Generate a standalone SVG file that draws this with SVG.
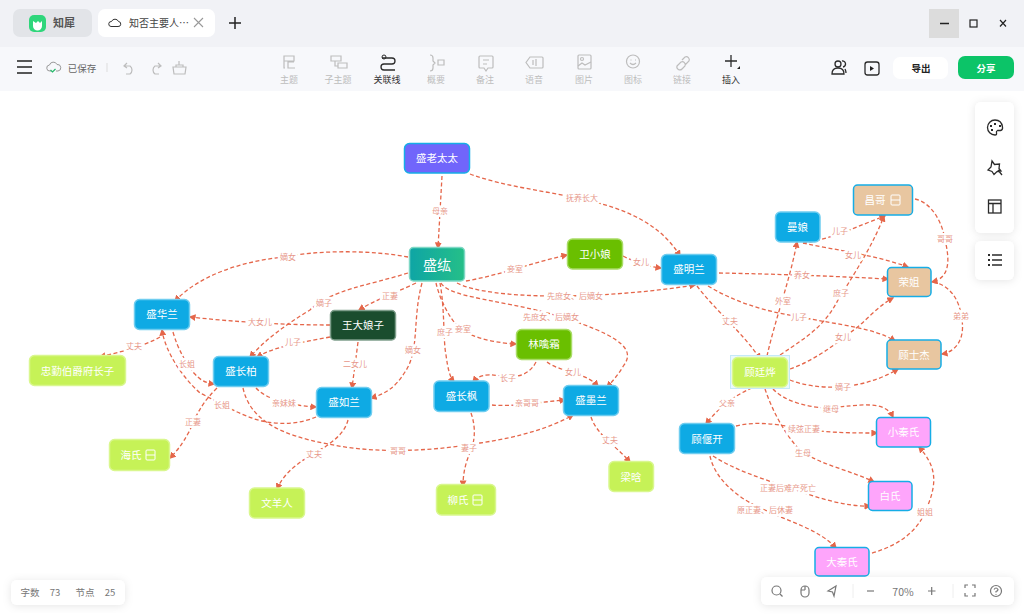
<svg xmlns="http://www.w3.org/2000/svg" width="1024" height="615" viewBox="0 0 1024 615">
<style>
text{font-family:"Noto Sans CJK SC","Noto Sans",sans-serif;text-anchor:middle}
.c path{fill:none;stroke:#e5664a;stroke-width:1.3;stroke-dasharray:4 2.500;marker-end:url(#a)}
.l text{font-size:8px;fill:#e7988a;stroke:#fff;stroke-width:5;paint-order:stroke;stroke-linejoin:round}
.n rect.b{stroke-width:1.5}
.n text{font-size:10.500px;fill:#fff}
.blue{fill:#0eaae4;stroke:#6fcdf0}
.lime{fill:#c6f257;stroke:#d9f78f}
.tan{fill:#e8c6a0;stroke:#16ade6}
.pink{fill:#fea5fb;stroke:#16ade6}
.grn{fill:#6abf00;stroke:#a9dc66}
.tb{font-size:9px;fill:#bdbdbd}
.ti{fill:none;stroke:#bdbdbd;stroke-width:1.2}
.di{fill:none;stroke:#2b2b2b;stroke-width:1.3}
.gi{fill:none;stroke:#777;stroke-width:1.2}
.pn{fill:#fff;filter:url(#s)}
</style>
<defs>
<marker id="a" viewBox="0 0 10 10" refX="8" refY="5" markerWidth="7" markerHeight="7" markerUnits="userSpaceOnUse" orient="auto"><path d="M0 0L10 5L0 10Z" fill="#e5664a"/></marker>
<linearGradient id="g" x1="0" x2="1" y1="0" y2="0"><stop offset="0" stop-color="#0ea5a5"/><stop offset="1" stop-color="#25bf88"/></linearGradient>
<filter id="s" x="-20%" y="-30%" width="140%" height="160%"><feDropShadow dx="0" dy="1" stdDeviation="4" flood-color="#000" flood-opacity=".1"/></filter>
</defs>
<rect width="1024" height="615" fill="#fff"/>
<g id="titlebar">
<rect width="1024" height="47" fill="#f1f2f6"/>
<rect x="13" y="9" width="79" height="28" rx="7" fill="#e2e4e8"/>
<rect x="29" y="15" width="17" height="17" rx="5" fill="#2fd67b"/>
<path d="M33 21v5a4 4 0 0 0 9 0v-5l-2 2-2-2-2 2z" fill="#fff"/>
<text x="64" y="27" font-size="11" font-weight="700" fill="#555">知犀</text>
<rect x="98" y="9" width="117" height="28" rx="7" fill="#fff"/>
<path d="M111 26.500h7a2.500 2.500 0 0 0 .5-5a3.800 3.800 0 0 0-7 0a2.500 2.500 0 0 0-.5 5z" fill="none" stroke="#333" stroke-width="1"/>
<text x="129" y="27" font-size="10" fill="#444" style="text-anchor:start">知否主要人…</text>
<path d="M194 18l9 9M203 18l-9 9" stroke="#999" stroke-width="1.100"/>
<path d="M229 23h12M235 17v12" stroke="#222" stroke-width="1.500"/>
<rect x="929" y="9" width="30" height="29" fill="#dcdcdc"/>
<path d="M940 23.500h9" stroke="#222" stroke-width="1.500"/>
<rect x="970" y="20" width="7" height="7" fill="none" stroke="#222" stroke-width="1.200"/>
<path d="M1000 20l6 6.500M1006 20l-6 6.500" stroke="#222" stroke-width="1.200"/>
</g>
<g id="toolbar">
<rect y="47" width="1024" height="44" fill="#f7f8fb"/>
<path d="M17 61h15M17 67h15M17 73h15" stroke="#222" stroke-width="1.500"/>
<path d="M51 71h-1a3 3 0 0 1-.5-6a4 4 0 0 1 7.500-.500a3 3 0 0 1 1 6.500h-2" fill="none" stroke="#999"/>
<path d="M50.500 70l2 2 3-3" fill="none" stroke="#22b868" stroke-width="1.200"/>
<text x="82" y="71.500" font-size="9.500" fill="#666">已保存</text>
<path d="M107 63v9" stroke="#ddd"/>
<path class="ti" d="M127 63l-3 3 3 2M124 66h6a5 5 0 0 1 0 8h-4"/>
<path class="ti" d="M158 63l3 3-3 2M161 66h-6a5 5 0 0 0 0 8h4"/>
<path class="ti" d="M173 67h13l-1 7h-11zM176 67v-2h7v2M179 61v4"/>
<path class="ti" d="M284 56h10v5h-10zM284 61v7h1M294 62h-6v6h7"/>
<path class="ti" d="M331 56h10v5h-10zM335 61v5h3M338 63h9v5h-9z"/>
<path class="di" d="M382 58h10a2.500 2.500 0 0 1 0 6h-8a2.500 2.500 0 0 0 0 6h11"/>
<circle cx="384" cy="57" r="2" fill="none" stroke="#2b2b2b"/>
<path class="ti" d="M430 55q3 0 3 3v3l2 2-2 2v3q0 3-3 3M438 60h6v5h-6z"/>
<path class="ti" d="M480 56h12a1 1 0 0 1 1 1v10a1 1 0 0 1-1 1h-4l-2 3-2-3h-4a1 1 0 0 1-1-1v-10a1 1 0 0 1 1-1zM483 60h6M483 64h4"/>
<path class="ti" d="M530 57h12a1 1 0 0 1 1 1v9a1 1 0 0 1-1 1h-12l-4-5.500zM533 60v5M536 59v7"/>
<rect class="ti" x="578" y="55" width="13" height="14" rx="1"/><circle class="ti" cx="582" cy="59" r="1.500"/><path class="ti" d="M578 66l4-3 3 2 6-3"/>
<circle class="ti" cx="633" cy="61.500" r="6.500"/><path class="ti" d="M630 63q3 3 6 0M630.500 60h1M635 60h1"/>
<path class="ti" d="M677 66l4-4a3 3 0 0 1 4 4l-3 3a3 3 0 0 1-5-3zM682 60l3-3a3 3 0 0 1 4 4l-4 4"/>
<path class="di" d="M725 61h12M731 55v12"/><path d="M740 66v3h-3z" fill="#222"/>
<text class="tb" x="289" y="83">主题</text>
<text class="tb" x="338" y="83">子主题</text>
<text class="tb" x="387" y="83" style="fill:#333">关联线</text>
<text class="tb" x="436" y="83">概要</text>
<text class="tb" x="485" y="83">备注</text>
<text class="tb" x="534" y="83">语音</text>
<text class="tb" x="584" y="83">图片</text>
<text class="tb" x="633" y="83">图标</text>
<text class="tb" x="682" y="83">链接</text>
<text class="tb" x="731" y="83" style="fill:#333">插入</text>
<circle class="di" cx="838" cy="64" r="3"/><path class="di" d="M832 74q0-6 6-6t6 6zM842 61a3 3 0 0 1 1 6M845 69q1 2 1 4"/>
<rect class="di" x="865" y="62" width="14" height="13" rx="2.500"/><path d="M870 66v5l4-2.500z" fill="#222"/>
<rect x="893" y="57" width="55" height="22" rx="7" fill="#fff"/>
<text x="921" y="72" font-size="9.500" font-weight="700" fill="#222">导出</text>
<rect x="958" y="56" width="56" height="23" rx="7" fill="#0cc468"/>
<text x="986" y="72" font-size="9.500" font-weight="700" fill="#fff">分享</text>
</g>
<g id="connectors" class="c">
<path d="M442 176L438 248"/>
<path d="M470 174C540 200 640 190 680 256"/>
<path d="M466 281C500 275 535 262 567 255"/>
<path d="M623 256C635 262 645 266 661 268"/>
<path d="M457 283C490 300 600 300 695 285"/>
<path d="M441 283C450 300 520 300 582 324C620 338 635 350 624 365C618 375 612 382 607 387"/>
<path d="M436 283C440 300 450 320 460 328C475 340 500 343 516 344"/>
<path d="M440 283C445 310 443 340 446 355C448 370 450 377 454 382"/>
<path d="M422 283C412 320 420 350 405 372C395 388 385 394 371 398"/>
<path d="M416 283C395 293 375 300 359 310"/>
<path d="M408 273C370 285 330 290 310 310C285 325 265 340 250 357"/>
<path d="M408 257C370 250 320 250 283 257C240 262 200 275 175 301"/>
<path d="M330 325C285 325 235 322 190 317"/>
<path d="M330 337C305 342 278 345 257 357"/>
<path d="M358 342C356 358 354 372 352 388"/>
<path d="M160 337C145 346 120 352 100 357"/>
<path d="M173 332C178 350 185 360 193 372C200 380 205 383 214 384"/>
<path d="M316 417C300 424 280 425 262 421C240 416 215 400 200 393C180 375 165 350 162 330"/>
<path d="M217 388C205 400 198 410 190 430C182 445 176 452 170 458"/>
<path d="M256 388C265 398 285 405 316 407"/>
<path d="M243 388C250 420 280 435 328 444C380 455 440 450 480 443C520 437 550 428 573 415"/>
<path d="M348 420C345 432 335 440 325 447C305 458 285 470 277 489"/>
<path d="M471 413C477 430 474 445 469 455C465 465 463 475 463 486"/>
<path d="M492 405C515 407 540 402 565 400"/>
<path d="M536 362C528 378 510 378 500 376C485 373 478 376 473 382"/>
<path d="M547 362C560 372 585 372 598 386"/>
<path d="M591 417C597 435 615 445 630 462"/>
<path d="M719 273C775 274 830 276 888 279"/>
<path d="M697 286C715 310 745 335 760 359"/>
<path d="M708 286C740 305 770 312 800 317C840 325 875 328 895 341"/>
<path d="M767 356C775 320 790 280 797 242"/>
<path d="M780 355C810 335 825 325 838 300C860 265 875 240 884 216"/>
<path d="M790 369C815 360 835 345 860 325C870 316 880 305 893 298"/>
<path d="M790 380C815 390 860 392 898 369"/>
<path d="M803 243C830 240 860 225 885 216"/>
<path d="M803 243C835 250 875 255 908 267"/>
<path d="M915 199C930 202 942 220 945 240C950 260 950 278 932 282"/>
<path d="M933 282C950 285 960 300 962 320C965 340 955 352 942 354"/>
<path d="M752 388C735 395 718 408 706 424"/>
<path d="M773 389C785 402 810 408 830 408C860 405 885 400 893 417"/>
<path d="M765 389C772 410 785 435 800 450C820 465 850 470 874 482"/>
<path d="M736 426C760 420 785 426 804 429C830 433 855 433 877 433"/>
<path d="M713 456C735 470 760 478 790 488C815 497 845 507 870 506"/>
<path d="M710 456C715 480 740 500 765 510C790 522 820 530 836 548"/>
<path d="M872 553C900 545 920 530 928 505C938 480 935 465 919 447"/>
</g>
<g id="labels" class="l">
<text x="440" y="214">母亲</text>
<text x="582" y="201">抚养长大</text>
<text x="515" y="272">妾室</text>
<text x="641" y="265">女儿</text>
<text x="575" y="299">先庶女、后嫡女</text>
<text x="551" y="320">先庶女、后嫡女</text>
<text x="463" y="332">妾室</text>
<text x="445" y="335">庶子</text>
<text x="413" y="353">嫡女</text>
<text x="390" y="299">正妻</text>
<text x="324" y="306">嫡子</text>
<text x="288" y="260">嫡女</text>
<text x="260" y="325">大女儿</text>
<text x="293" y="345">儿子</text>
<text x="355" y="367">二女儿</text>
<text x="134" y="349">丈夫</text>
<text x="187" y="367">长姐</text>
<text x="222" y="408">长姐</text>
<text x="193" y="425">正妻</text>
<text x="284" y="406">亲妹妹</text>
<text x="398" y="454">哥哥</text>
<text x="314" y="457">丈夫</text>
<text x="469" y="451">妻子</text>
<text x="527" y="406">亲哥哥</text>
<text x="508" y="381">长子</text>
<text x="573" y="375">女儿</text>
<text x="610" y="443">丈夫</text>
<text x="802" y="278">养女</text>
<text x="730" y="324">丈夫</text>
<text x="799" y="320">儿子</text>
<text x="783" y="304">外室</text>
<text x="841" y="296">庶子</text>
<text x="843" y="340">女儿</text>
<text x="843" y="390">嫡子</text>
<text x="840" y="234">儿子</text>
<text x="853" y="258">女儿</text>
<text x="945" y="242">哥哥</text>
<text x="961" y="319">弟弟</text>
<text x="727" y="406">父亲</text>
<text x="831" y="412">继母</text>
<text x="803" y="456">生母</text>
<text x="804" y="432">续弦正妻</text>
<text x="788" y="491">正妻后难产死亡</text>
<text x="765" y="513">原正妻、后休妻</text>
<text x="925" y="515">姐姐</text>
</g>
<g id="n-laotaitai" class="n"><rect class="b" x="404.500" y="143.500" width="65" height="29.500" rx="5" fill="#7165fb" stroke="#16ade6"/><text x="437" y="162">盛老太太</text></g>
<g id="n-shenghong" class="n"><rect class="b" x="409.500" y="247.500" width="55" height="33.500" rx="4" fill="url(#g)" stroke="#7fd8c5" stroke-width="1"/><text x="437" y="269.500" style="font-size:14px">盛纮</text></g>
<g id="n-weixiaoniang" class="n"><rect class="b grn" x="567.500" y="239" width="55" height="30" rx="5"/><text x="595" y="258">卫小娘</text></g>
<g id="n-wangdaniangzi" class="n"><rect class="b" x="330.500" y="310.500" width="65" height="29.500" rx="4" fill="#1a4d2e" stroke="#7f9f8c"/><text x="363" y="329">王大娘子</text></g>
<g id="n-huualan" class="n"><rect class="b blue" x="134.500" y="299.500" width="55" height="30" rx="5"/><text x="162" y="318">盛华兰</text></g>
<g id="n-zhongqin" class="n"><rect class="b lime" x="29.500" y="355.500" width="96" height="30" rx="5"/><text x="77.500" y="375">忠勤伯爵府长子</text></g>
<g id="n-changbai" class="n"><rect class="b blue" x="213.500" y="356.500" width="55" height="30" rx="5"/><text x="241" y="375">盛长柏</text></g>
<g id="n-rulan" class="n"><rect class="b blue" x="316.500" y="387.500" width="55" height="30" rx="5"/><text x="344" y="406">盛如兰</text></g>
<g id="n-changfeng" class="n"><rect class="b blue" x="434" y="381" width="55" height="30.500" rx="5"/><text x="461.500" y="400">盛长枫</text></g>
<g id="n-molan" class="n"><rect class="b blue" x="563.500" y="385.500" width="55" height="30" rx="5"/><text x="591" y="404">盛墨兰</text></g>
<g id="n-linqinshuang" class="n"><rect class="b grn" x="516.500" y="329.500" width="55" height="30" rx="5"/><text x="544" y="348">林噙霜</text></g>
<g id="n-liushi" class="n"><rect class="b lime" x="436.500" y="484.500" width="59" height="30.500" rx="5"/><text x="458" y="504">柳氏</text><path d="M474 495h7a1 1 0 0 1 1 1v8a1 1 0 0 1-1 1h-7a1 1 0 0 1-1-1v-8a1 1 0 0 1 1-1zM473 500h9" fill="none" stroke="#fff"/></g>
<g id="n-lianghan" class="n"><rect class="b lime" x="609" y="461.500" width="44.500" height="30" rx="5"/><text x="631" y="481">梁晗</text></g>
<g id="n-haishi" class="n"><rect class="b lime" x="109.500" y="439.500" width="60" height="31" rx="5"/><text x="131" y="459">海氏</text><path d="M147 450h7a1 1 0 0 1 1 1v8a1 1 0 0 1-1 1h-7a1 1 0 0 1-1-1v-8a1 1 0 0 1 1-1zM146 455h9" fill="none" stroke="#fff"/></g>
<g id="n-wenyanren" class="n"><rect class="b lime" x="249.500" y="488" width="55" height="30" rx="5"/><text x="277" y="507">文羊人</text></g>
<g id="n-minglan" class="n"><rect class="b blue" x="661.500" y="254.500" width="55" height="30" rx="5"/><text x="689" y="273">盛明兰</text></g>
<g id="n-manniang" class="n"><rect class="b blue" x="775.500" y="212" width="44.500" height="30" rx="5"/><text x="797.500" y="231">曼娘</text></g>
<g id="n-changge" class="n"><rect class="b tan" x="853.500" y="185" width="59" height="30" rx="4"/><text x="875" y="204">昌哥</text><path d="M892 195h7a1 1 0 0 1 1 1v8a1 1 0 0 1-1 1h-7a1 1 0 0 1-1-1v-8a1 1 0 0 1 1-1zM891 200h9" fill="none" stroke="#fff"/></g>
<g id="n-rongjie" class="n"><rect class="b tan" x="887.500" y="267.500" width="43.500" height="29" rx="4"/><text x="909" y="286">荣姐</text></g>
<g id="n-shijie" class="n"><rect class="b tan" x="887" y="340" width="54" height="29" rx="4"/><text x="914" y="359">顾士杰</text></g>
<g id="n-tingye" class="n"><rect x="730.500" y="355.500" width="59" height="33" fill="#eaf8fe" stroke="#c5e9f8" stroke-width="1"/><rect class="b" x="732.500" y="357.500" width="55" height="29.500" rx="5" fill="#c6f257" stroke="#d9f78f"/><text x="760" y="376">顾廷烨</text></g>
<g id="n-yankai" class="n"><rect class="b blue" x="679.500" y="423.500" width="55" height="30" rx="5"/><text x="707" y="443">顾偃开</text></g>
<g id="n-xiaoqin" class="n"><rect class="b pink" x="876.500" y="417.500" width="54" height="29.500" rx="4"/><text x="903.500" y="436">小秦氏</text></g>
<g id="n-baishi" class="n"><rect class="b pink" x="868.500" y="481.500" width="43.500" height="29" rx="4"/><text x="890" y="500">白氏</text></g>
<g id="n-daqin" class="n"><rect class="b pink" x="815" y="547.500" width="54" height="28.500" rx="4"/><text x="842" y="566">大秦氏</text></g>
<g id="sidepanel">
<rect class="pn" x="975" y="102" width="39" height="131" rx="6"/>
<rect class="pn" x="975" y="241" width="39" height="39" rx="6"/>
<path class="di" d="M995 120a7.500 7.500 0 1 0 0 15q2 0 1.500-2t1-2.500h3q2.500-.5 2-3.500q-1-7-7.500-7z"/>
<path d="M990 125h2v2h-2zM994 123h2v2h-2zM999 125h2v2h-2zM991 129h2v2h-2z" fill="#2b2b2b"/>
<path class="di" d="M992 161l2.500 3.500 5-.500-.500 4.500 2 2.500-4 .500-3 3-2-3-4-1.500 3-3zM998 170l4 5"/>
<rect class="di" x="988.500" y="200" width="12.500" height="13"/><path class="di" d="M988.500 203.500h12.500M993 203.500v9.500"/>
<path class="di" d="M992 255h10M992 260h10M992 265h10"/><path d="M988 254h2v2h-2zM988 259h2v2h-2zM988 264h2v2h-2z" fill="#2b2b2b"/>
</g>
<g id="statusbar">
<rect class="pn" x="11" y="580" width="114" height="25" rx="6"/>
<text x="30" y="596" font-size="9.500" fill="#777">字数</text>
<text x="55" y="596" font-size="9.500" fill="#777">73</text>
<text x="85" y="596" font-size="9.500" fill="#777">节点</text>
<text x="110" y="596" font-size="9.500" fill="#777">25</text>
<rect class="pn" x="761" y="577" width="253" height="28" rx="6"/>
<circle class="gi" cx="776.500" cy="590.500" r="4.500"/><path class="gi" d="M780 594l2.500 2.500"/>
<rect class="gi" x="801" y="586" width="8" height="11" rx="4"/><path class="gi" d="M805 586v4M801 590h4"/>
<path class="gi" d="M836 586l-8 5 4.500 1 1.500 4z"/>
<path class="gi" d="M867 591h7"/>
<text x="903" y="596" font-size="10.500" fill="#777">70%</text>
<path class="gi" d="M928 591h7.500M931.700 587v8"/>
<path d="M853 584v14M953 584v14" stroke="#eee"/>
<path class="gi" d="M965 588v-3h3M972 585h3v3M975 593v3h-3M968 596h-3v-3"/>
<circle class="gi" cx="996" cy="591" r="5.500"/><path class="gi" d="M994 589.500q2-3 4 0q0 1.500-2 2v1M996 594v.800"/>
</g>
</svg>
